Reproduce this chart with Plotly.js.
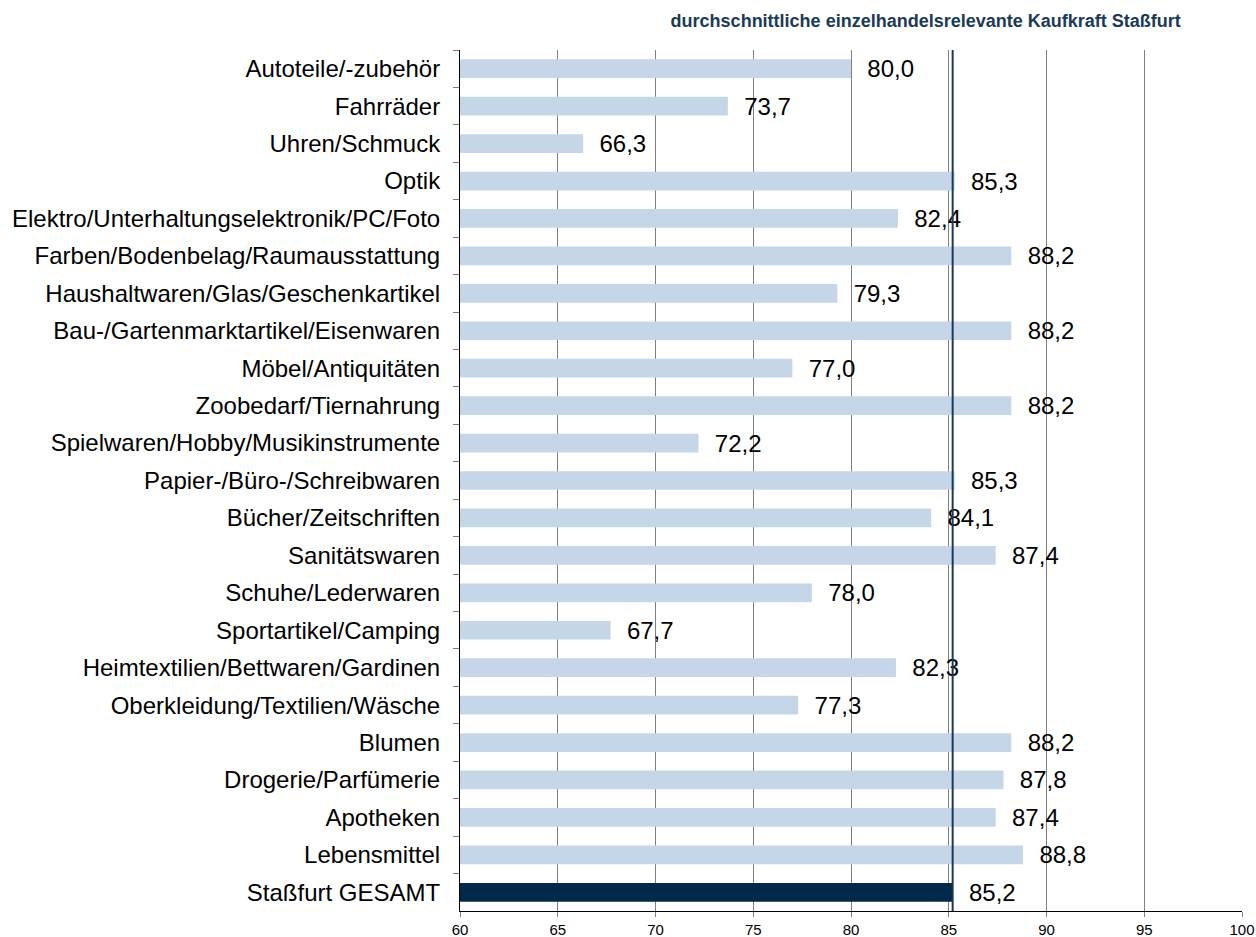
<!DOCTYPE html>
<html>
<head>
<meta charset="utf-8">
<script src="https://cdn.plot.ly/plotly-3.0.1.min.js"></script>
<style>html,body{margin:0;padding:0;background:#fff}#chart{width:1256px;height:937px}</style>
</head>
<body>
<div id="chart"></div>
<script>
const categories = [
  "Autoteile/-zubehör",
  "Fahrräder",
  "Uhren/Schmuck",
  "Optik",
  "Elektro/Unterhaltungselektronik/PC/Foto",
  "Farben/Bodenbelag/Raumausstattung",
  "Haushaltwaren/Glas/Geschenkartikel",
  "Bau-/Gartenmarktartikel/Eisenwaren",
  "Möbel/Antiquitäten",
  "Zoobedarf/Tiernahrung",
  "Spielwaren/Hobby/Musikinstrumente",
  "Papier-/Büro-/Schreibwaren",
  "Bücher/Zeitschriften",
  "Sanitätswaren",
  "Schuhe/Lederwaren",
  "Sportartikel/Camping",
  "Heimtextilien/Bettwaren/Gardinen",
  "Oberkleidung/Textilien/Wäsche",
  "Blumen",
  "Drogerie/Parfümerie",
  "Apotheken",
  "Lebensmittel",
  "Staßfurt GESAMT"
];
const values = [80.0, 73.7, 66.3, 85.3, 82.4, 88.2, 79.3, 88.2, 77.0, 88.2, 72.2, 85.3, 84.1, 87.4, 78.0, 67.7, 82.3, 77.3, 88.2, 87.8, 87.4, 88.8, 85.2];
const totalLabel = "Staßfurt GESAMT";
const averageValue = 85.2;
const chartTitle = "durchschnittliche einzelhandelsrelevante Kaufkraft Staßfurt";
const xTicks = [60, 65, 70, 75, 80, 85, 90, 95, 100];

const colors = categories.map(c => c === totalLabel ? "#03294a" : "#c5d6e8");

const trace = {
  type: "bar",
  orientation: "h",
  x: values,
  y: categories,
  marker: {color: colors},
  width: 0.5,
  text: values.map(v => v.toFixed(1).replace(".", ",")),
  texttemplate: "\u00a0\u00a0%{text}",
  textposition: "outside",
  constraintext: "none",
  cliponaxis: false,
  textfont: {family: "Liberation Sans, Arial, sans-serif", size: 24, color: "#000"},
  hoverinfo: "none"
};

const layout = {
  width: 1256,
  height: 937,
  margin: {l: 460, r: 14, t: 50, b: 26},
  paper_bgcolor: "#fff",
  plot_bgcolor: "#fff",
  showlegend: false,
  separators: ",.",
  font: {family: "Liberation Sans, Arial, sans-serif", color: "#000"},
  title: {
    text: "<b>" + chartTitle + "</b>",
    x: 0.737, xanchor: "center",
    y: 0.978, yanchor: "middle",
    font: {size: 18, color: "#1b3a57", family: "Liberation Sans, Arial, sans-serif"}
  },
  xaxis: {
    range: [60, 100],
    tickvals: xTicks,
    ticktext: xTicks.map(String),
    showgrid: true,
    gridcolor: "#7f7f7f",
    gridwidth: 1,
    zeroline: false,
    showline: true,
    linecolor: "#000",
    linewidth: 1,
    ticks: "outside",
    ticklen: 5,
    tickcolor: "#7f7f7f",
    tickfont: {size: 15, color: "#000"},
    fixedrange: true
  },
  yaxis: {
    type: "category",
    autorange: "reversed",
    showgrid: false,
    showline: true,
    linecolor: "#000",
    linewidth: 1,
    ticks: "outside",
    tickson: "boundaries",
    ticklen: 6,
    tickcolor: "#7f7f7f",
    tickfont: {size: 24, color: "#000"},
    ticklabelstandoff: 14,
    fixedrange: true
  },
  shapes: [{
    type: "line",
    xref: "x", yref: "paper",
    x0: averageValue, x1: averageValue, y0: 0, y1: 1,
    line: {color: "#1b3a57", width: 2}
  }]
};

Plotly.newPlot("chart", [trace], layout, {staticPlot: true, displayModeBar: false});
</script>
</body>
</html>
